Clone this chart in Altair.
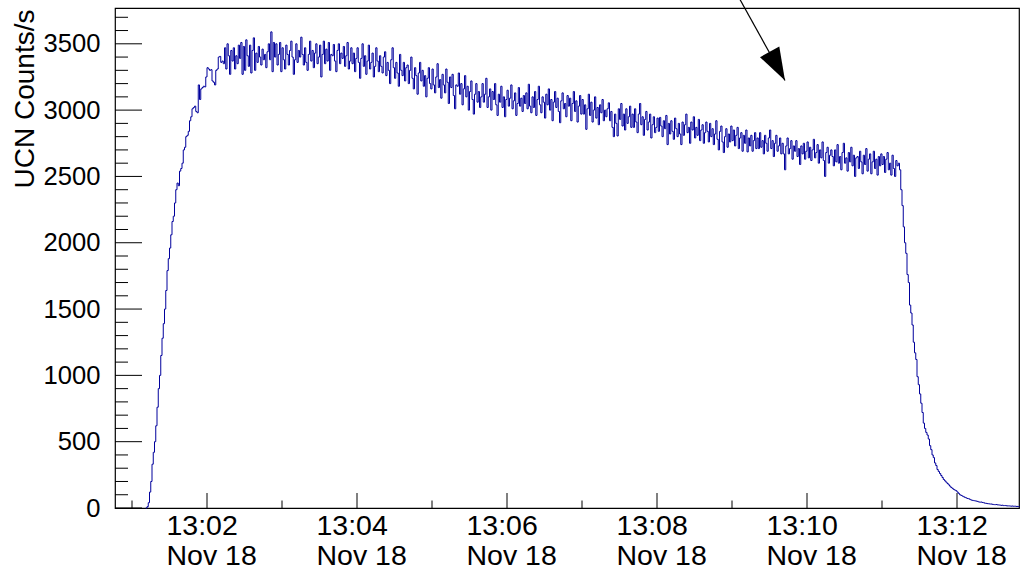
import altair as alt
import pandas as pd

# ---- histogram data: UCN counts per 1 s bin, time in seconds after 13:00:00 (Nov 18) ----
first_bin_s = 71
bin_width_s = 1

rise_071_132 = [0, 10, 40, 120, 200, 330, 420, 500, 620, 760, 900, 1000, 1150, 1280, 1390, 1500,
                1640, 1790, 1880, 1960, 2060, 2160, 2200, 2300, 2400, 2450, 2430, 2540, 2560, 2600,
                2700, 2720, 2800, 2810, 2840, 2920, 2950, 3010, 3020, 3030, 2990, 2980, 3190, 3080,
                3160, 3170, 3180, 3175, 3250, 3320, 3310, 3300, 3305, 3220, 3210, 3190, 3300, 3310,
                3400, 3405, 3360, 3370]
plat_133_199 = [3350, 3470, 3310, 3500, 3410, 3270, 3450,
                3370, 3470, 3310, 3410, 3350, 3490, 3390, 3510, 3270, 3480, 3300, 3530, 3410, 3330, 3490, 3280, 3450, 3545, 3300, 3430,
                3360, 3480, 3400, 3340, 3460, 3380, 3420, 3320, 3440, 3500, 3380, 3590, 3290, 3510, 3400, 3500, 3340, 3420, 3510, 3290,
                3470, 3380, 3310, 3490, 3420, 3340, 3450, 3520, 3400, 3270, 3380, 3500, 3360, 3450, 3400, 3550, 3420, 3340, 3470, 3360]
plat_200_299 = [3300, 3420, 3520, 3370, 3450, 3320, 3430, 3500, 3350, 3400, 3490, 3250, 3420, 3520, 3350, 3460, 3370, 3510, 3300, 3420,
                3410, 3495, 3370, 3290, 3450, 3500, 3350, 3430, 3390, 3480, 3330, 3410, 3510, 3310, 3370, 3470, 3350, 3430, 3290, 3390,
                3470, 3360, 3240, 3390, 3500, 3330, 3410, 3270, 3370, 3490, 3310, 3360, 3430, 3250, 3330, 3470, 3370, 3290, 3410, 3330,
                3280, 3400, 3440, 3260, 3360, 3300, 3200, 3380, 3470, 3320, 3240, 3360, 3280, 3180, 3420, 3300, 3260, 3360, 3220, 3320,
                3340, 3200, 3300, 3400, 3240, 3160, 3320, 3260, 3120, 3280, 3360, 3220, 3300, 3180, 3260, 3100, 3240, 3320, 3200, 3160]
plat_300_399 = [3310, 3190, 3130, 3250, 3350, 3170, 3230, 3090, 3270, 3190, 3130, 3310, 3210, 3050, 3250, 3170, 3270, 3110, 3010, 3190,
                3180, 3280, 3120, 3200, 3040, 3160, 3260, 3100, 3180, 3000, 3140, 3220, 3080, 2970, 3120, 3200, 3060, 3140, 3020, 3100,
                3200, 3060, 3120, 3240, 3020, 3100, 3160, 3000, 3140, 3080, 3200, 3040, 2960, 3120, 3060, 3180, 3020, 3100, 2950, 3080,
                3150, 3030, 3090, 3190, 3010, 3070, 3130, 2960, 3050, 3170, 3030, 3090, 2990, 3110, 3050, 3130, 3010, 3195, 3030, 2980,
                3100, 3020, 3140, 2960, 3080, 3180, 3040, 2980, 3100, 3060, 2940, 3120, 3040, 3160, 3000, 3080, 2920, 3060, 3140, 3020]
plat_400_499 = [3090, 2990, 2905, 3070, 3130, 3010, 3050, 2950, 3110, 3030, 3090, 2920, 3050, 3140, 2990, 3070, 2910, 3030, 3110, 2970,
                3080, 2970, 3040, 2855, 3010, 3120, 2960, 3060, 2910, 3000, 3100, 2940, 3020, 2890, 3040, 2980, 3080, 2920, 3000, 2950,
                3010, 3055, 2920, 2990, 2870, 2800, 2970, 2900, 2805, 3010, 2930, 3050, 2880, 2970, 2850, 3010, 2900, 2950, 3030, 2870,
                2970, 2870, 3010, 2910, 2830, 2970, 3050, 2890, 2950, 2810, 2930, 2990, 2850, 2910, 2970, 2790, 2890, 2950, 2830, 2870,
                2940, 2840, 2945, 2880, 2800, 2920, 2860, 2960, 2740, 2900, 2820, 2920, 2840, 2780, 2940, 2860, 2800, 2900, 2820, 2740]
plat_500_599 = [2910, 2810, 2890, 2970, 2830, 2870, 2750, 2910, 2850, 2950, 2790, 2870, 2810, 2930, 2770, 2850, 2890, 2750, 2830, 2910,
                2840, 2760, 2900, 2800, 2860, 2740, 2820, 2920, 2780, 2700, 2840, 2880, 2760, 2680, 2800, 2860, 2720, 2820, 2760, 2880,
                2770, 2850, 2730, 2810, 2870, 2710, 2790, 2830, 2690, 2810, 2750, 2850, 2685, 2790, 2730, 2810, 2690, 2770, 2830, 2710,
                2790, 2710, 2830, 2720, 2770, 2670, 2810, 2750, 2690, 2790, 2850, 2710, 2770, 2650, 2750, 2810, 2690, 2730, 2790, 2670,
                2750, 2670, 2550, 2730, 2790, 2670, 2710, 2770, 2630, 2730, 2690, 2770, 2650, 2710, 2590, 2730, 2670, 2750, 2630, 2690]
plat_600_671 = [2760, 2640, 2720, 2620, 2700, 2780, 2640, 2680, 2740, 2600, 2700, 2640, 2760, 2620, 2500, 2680, 2720, 2600, 2660, 2700,
                2650, 2580, 2700, 2610, 2740, 2600, 2650, 2550, 2680, 2750, 2600, 2640, 2540, 2680, 2610, 2720, 2580, 2660, 2500, 2640,
                2650, 2560, 2690, 2610, 2520, 2660, 2590, 2710, 2540, 2630, 2670, 2520, 2610, 2690, 2560, 2630, 2510, 2650, 2580, 2670,
                2590, 2650, 2530, 2630, 2680, 2550, 2600, 2510, 2660, 2560, 2500, 2620]
fall_672_769 = [2580, 2600, 2550, 2400, 2280, 2120, 2000, 1920, 1760, 1700, 1530, 1470, 1380, 1250, 1170, 1120,
                990, 930, 860, 790, 720, 640, 600, 570, 550, 520, 470, 440, 400, 380, 340, 320, 290, 275,
                260, 245, 230, 215, 205, 195, 185, 175, 165, 155, 148, 140, 135, 130, 120, 110, 100, 95,
                90, 85, 80, 76, 72, 70, 65, 60, 58, 56, 54, 52, 50, 46, 44, 45, 42, 40, 36, 35, 33, 32,
                30, 30, 28, 26, 25, 26, 24, 23, 22, 20, 21, 18, 19, 17, 16, 16, 15, 14, 15, 13, 14, 12, 12, 11]

counts = (rise_071_132 + plat_133_199 + plat_200_299 + plat_300_399 + plat_400_499
          + plat_500_599 + plat_600_671 + fall_672_769)
times = [first_bin_s + i * bin_width_s for i in range(len(counts))]
# closing edge of the last bin
times.append(times[-1] + bin_width_s)
counts.append(counts[-1])
hist = pd.DataFrame({"t": times, "counts": counts})

# ---- axes ----
x_range = [46.4, 769.6]
y_range = [0, 3770]
x_major = [120, 240, 360, 480, 600, 720]
x_minor = [60, 180, 300, 420, 540, 660]
y_major = [0, 500, 1000, 1500, 2000, 2500, 3000, 3500]
y_minor = [v for v in range(100, 3800, 100) if v % 500 != 0]

# ---- annotation arrow (data coordinates) ----
arrow_start = {"t": 536.6, "counts": 4000}
arrow_tip = {"t": 582.4, "counts": 3223}

W, H = 904, 500
FONT = "Liberation Sans"
BLUE = "#00009c"

xs = alt.Scale(domain=x_range, nice=False, zero=False)
ys = alt.Scale(domain=y_range, nice=False, zero=False)

x_axis = alt.Axis(
    values=x_major, tickSize=0, domain=False, grid=False, title="",
    labelExpr="['13:' + (floor(datum.value/60) < 10 ? '0' : '') + floor(datum.value/60), 'Nov 18']",
    labelFont=FONT, labelFontSize=28.5, labelColor="black", labelPadding=3,
    labelLineHeight=30, labelAlign="left", labelOffset=-41,
    labelFlush=False, labelOverlap=False)
y_axis = alt.Axis(
    values=y_major, tickSize=0, domain=False, grid=False, format="d",
    labelFont=FONT, labelFontSize=25.6, labelColor="black", labelPadding=15,
    labelFlush=False, labelOverlap=False,
    title="UCN Counts/s", titleFont=FONT, titleFontSize=28, titleFontWeight="normal",
    titleColor="black", titleAngle=270, titleAlign="right", titleBaseline="alphabetic",
    titleX=-81.5, titleY=1)

line = alt.Chart(hist).mark_line(interpolate="step-after", color=BLUE, strokeWidth=1).encode(
    x=alt.X("t:Q", scale=xs, axis=x_axis),
    y=alt.Y("counts:Q", scale=ys, axis=y_axis),
)

xmaj = alt.Chart(pd.DataFrame({"t": x_major})).mark_rule(color="black", strokeWidth=1).encode(
    x=alt.X("t:Q", scale=xs, axis=x_axis), y=alt.value(H), y2=alt.value(H - 15))
xmin = alt.Chart(pd.DataFrame({"t": x_minor})).mark_rule(color="black", strokeWidth=1).encode(
    x=alt.X("t:Q", scale=xs, axis=x_axis), y=alt.value(H), y2=alt.value(H - 7.5))
ymaj = alt.Chart(pd.DataFrame({"counts": y_major})).mark_rule(color="black", strokeWidth=1).encode(
    y=alt.Y("counts:Q", scale=ys, axis=y_axis), x=alt.value(0), x2=alt.value(27))
ymin = alt.Chart(pd.DataFrame({"counts": y_minor})).mark_rule(color="black", strokeWidth=1).encode(
    y=alt.Y("counts:Q", scale=ys, axis=y_axis), x=alt.value(0), x2=alt.value(13))

arrow_df = pd.DataFrame({"t": [arrow_start["t"]], "counts": [arrow_start["counts"]],
                         "t2": [arrow_tip["t"]], "counts2": [arrow_tip["counts"]]})
arrow_line = alt.Chart(arrow_df).mark_rule(color="black", strokeWidth=1.2, clip=False).encode(
    x=alt.X("t:Q", scale=xs, axis=x_axis), y=alt.Y("counts:Q", scale=ys, axis=y_axis),
    x2="t2:Q", y2="counts2:Q")
head = alt.Chart(pd.DataFrame({"t": [arrow_tip["t"]], "counts": [arrow_tip["counts"]]})).mark_point(
    shape="M0,0L-0.735,-0.688L-0.168,-1Z", size=4624, filled=True, color="black",
    opacity=1, strokeWidth=0, clip=False).encode(
    x=alt.X("t:Q", scale=xs, axis=x_axis), y=alt.Y("counts:Q", scale=ys, axis=y_axis))

chart = alt.layer(line, xmaj, xmin, ymaj, ymin, arrow_line, head).properties(
    width=W, height=H,
    autosize=alt.AutoSizeParams(type="none"),
    padding={"left": 115, "top": 8, "right": 1, "bottom": 65},
    background="white",
).configure_view(stroke="black", strokeWidth=1.2)

chart.save("out.html", embed_options={"renderer": "svg", "actions": False})
